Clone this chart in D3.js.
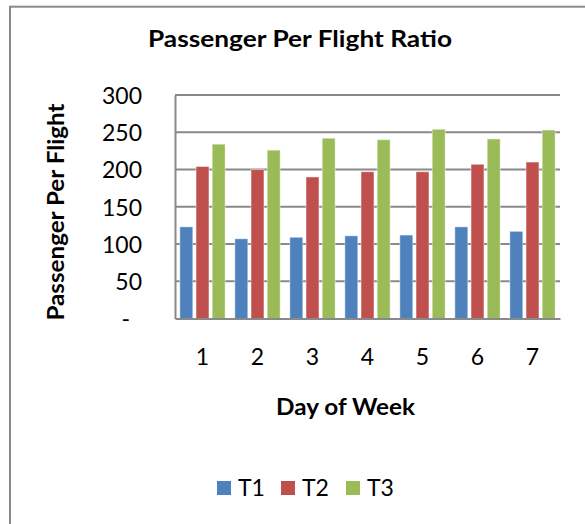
<!DOCTYPE html>
<html>
<head>
<meta charset="utf-8">
<script src="https://cdn.jsdelivr.net/npm/d3@7"></script>
<style>
  html, body { margin: 0; padding: 0; background: #fff; }
  svg { display: block; }
  text { font-family: Lato, "Open Sans", sans-serif; fill: #000; }
</style>
</head>
<body>
<svg id="chart" width="585" height="524"></svg>
<script>
// Passenger-per-flight ratios by day of week for three terminals
const days = ["1", "2", "3", "4", "5", "6", "7"];
const seriesNames = ["T1", "T2", "T3"];
const t1 = [123, 107, 109, 111, 112, 123, 117];
const t2 = [204, 200, 190, 197, 197, 207, 210];
const t3 = [234, 226, 242, 240, 254, 241, 253];
const yTicks = [0, 50, 100, 150, 200, 250, 300];
const seriesColors = ["#4F81BD", "#C0504D", "#9BBB59"];

const rows = days.map((d, i) => ({ day: d, values: [t1[i], t2[i], t3[i]] }));

const svg = d3.select("#chart");
const plot = { left: 175, right: 560, top: 95, bottom: 318.5 };
const gray = "#898989";

// Outer chart frame (right and bottom edges run past the canvas)
svg.append("rect")
  .attr("x", 10).attr("y", 6.7)
  .attr("width", 640).attr("height", 600)
  .attr("fill", "#fff").attr("stroke", gray).attr("stroke-width", 2);

const x0 = d3.scaleBand().domain(days).range([plot.left, plot.right]).padding(0);
const x1 = d3.scaleBand().domain(seriesNames).range([0, x0.bandwidth()])
  .paddingInner(0.2).paddingOuter(0.3);
const y = d3.scaleLinear().domain([0, 300]).range([plot.bottom, plot.top]);

// Horizontal gridlines
svg.append("g")
  .selectAll("line")
  .data(yTicks.filter(t => t > 0))
  .join("line")
  .attr("x1", plot.left).attr("x2", plot.right)
  .attr("y1", d => y(d)).attr("y2", d => y(d))
  .attr("stroke", gray).attr("stroke-width", 2);

// Bars
const groups = svg.append("g")
  .selectAll("g")
  .data(rows)
  .join("g")
  .attr("transform", d => `translate(${x0(d.day)},0)`);

groups.selectAll("rect")
  .data(d => d.values.map((v, k) => ({ key: seriesNames[k], value: v, k })))
  .join("rect")
  .attr("x", d => x1(d.key))
  .attr("width", x1.bandwidth())
  .attr("y", d => y(d.value))
  .attr("height", d => y(0) - y(d.value))
  .attr("fill", d => seriesColors[d.k])
  .attr("stroke", "rgba(255,255,255,0.45)")
  .attr("stroke-width", 1);

// Y axis
const yAxis = svg.append("g")
  .attr("transform", `translate(${plot.left},0)`)
  .call(d3.axisLeft(y).tickValues(yTicks).tickSize(0).tickPadding(33)
    .tickFormat(d => d === 0 ? "-" : d));
yAxis.select(".domain").attr("stroke", gray).attr("stroke-width", 2);
yAxis.selectAll(".tick text")
  .attr("font-size", 23)
  .attr("font-family", "Lato, sans-serif")
  .attr("fill", "#000")
  .attr("dy", "0.36em")
  .filter(d => d === 0).attr("dx", -12);

// X axis
const xAxis = svg.append("g")
  .attr("transform", `translate(0,${plot.bottom})`)
  .call(d3.axisBottom(x0).tickSize(0).tickPadding(30));
xAxis.select(".domain").attr("stroke", gray).attr("stroke-width", 2);
xAxis.selectAll(".tick text")
  .attr("font-size", 23)
  .attr("font-family", "Lato, sans-serif")
  .attr("fill", "#000");

// Titles
svg.append("text")
  .attr("x", 300).attr("y", 47)
  .attr("text-anchor", "middle")
  .attr("font-size", 22).attr("font-weight", "bold")
  .attr("textLength", 304).attr("lengthAdjust", "spacingAndGlyphs")
  .text("Passenger Per Flight Ratio");

svg.append("text")
  .attr("transform", "translate(64,212) rotate(-90)")
  .attr("text-anchor", "middle")
  .attr("font-size", 22).attr("font-weight", "bold")
  .attr("textLength", 217).attr("lengthAdjust", "spacingAndGlyphs")
  .text("Passenger Per Flight");

svg.append("text")
  .attr("x", 345.5).attr("y", 415)
  .attr("text-anchor", "middle")
  .attr("font-size", 22).attr("font-weight", "bold")
  .attr("textLength", 139).attr("lengthAdjust", "spacingAndGlyphs")
  .text("Day of Week");

// Legend
const legendX = [217, 281, 346];
const legend = svg.append("g")
  .selectAll("g")
  .data(seriesNames)
  .join("g")
  .attr("transform", (d, i) => `translate(${legendX[i]},481)`);
legend.append("rect")
  .attr("width", 14).attr("height", 14)
  .attr("fill", (d, i) => seriesColors[i]);
legend.append("text")
  .attr("x", 21).attr("y", 15)
  .attr("font-size", 23)
  .text(d => d);
</script>
</body>
</html>
